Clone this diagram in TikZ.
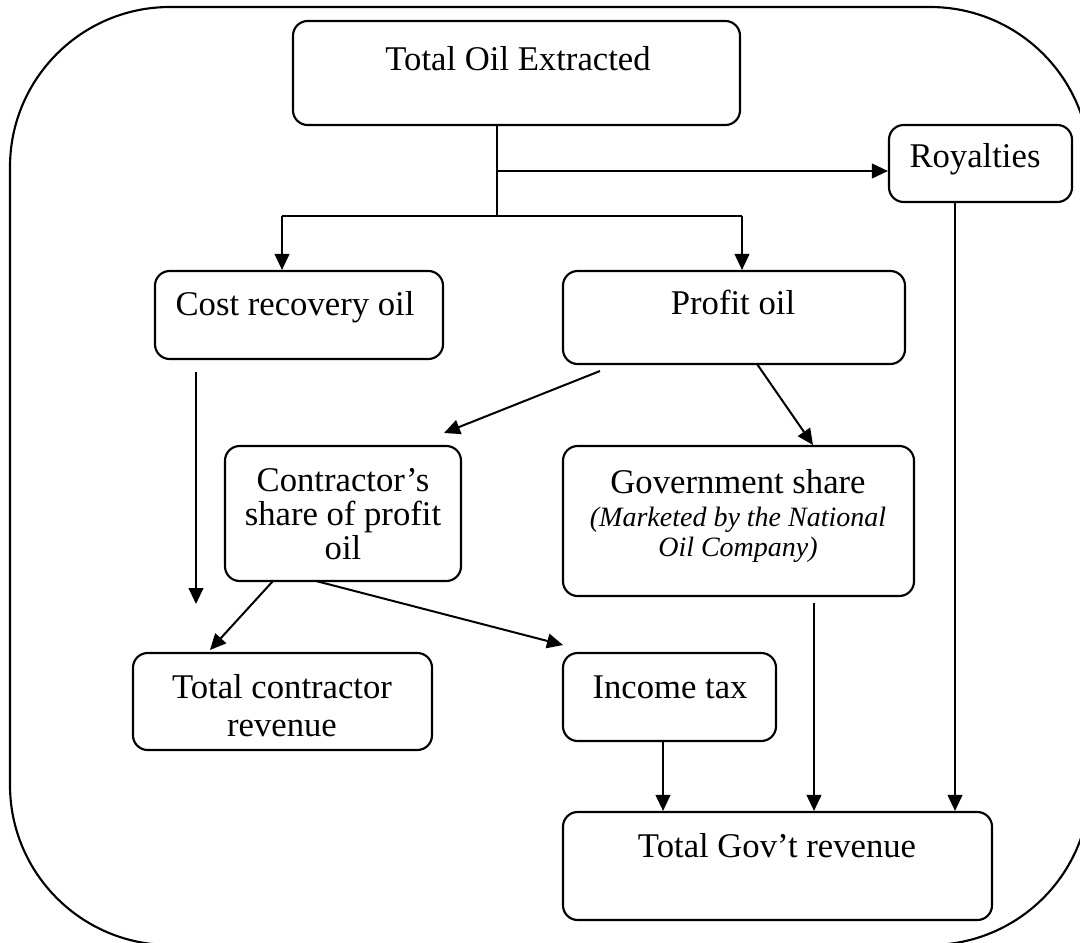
\documentclass[tikz,border=0pt]{standalone}
\usepackage{fontspec}
\setmainfont{Liberation Serif}
\usetikzlibrary{arrows.meta,fit}
\begin{document}
\begin{tikzpicture}[x=0.75pt,y=-0.75pt,
  box/.style={draw,line width=1.6pt,rounded corners=11pt,inner sep=0pt},
  txt/.style={font=\fontsize{26}{25.5}\selectfont,inner sep=0pt,align=center},
  itxt/.style={font=\fontsize{21}{22.5}\selectfont\itshape,inner sep=0pt,align=center},
  conn/.style={line width=1.5pt},
  arr/.style={line width=1.5pt,-{Triangle[length=12pt,width=11pt]}}]
\clip (0,0) rectangle (1080,942);
\fill[white] (0,0) rectangle (1080,942);
\draw[line width=1.6pt,rounded corners=120pt] (10,7) rectangle (1090,945);
% boxes
\node[box,fit={(293,21) (740,125)}] (toe) {};
\node[box,fit={(889,125) (1072,202)}] (roy) {};
\node[box,fit={(155,271) (443,359)}] (cro) {};
\node[box,fit={(563,271) (905,364)}] (prof) {};
\node[box,fit={(225,446) (461,581)}] (cshare) {};
\node[box,fit={(563,446) (914,596)}] (gshare) {};
\node[box,fit={(133,653) (432,750)}] (tcr) {};
\node[box,fit={(563,653) (776,741)}] (inc) {};
\node[box,fit={(563,812) (992,920)}] (tgr) {};
% texts
\node[txt,anchor=base] (toe-t) at (518,70) {Total Oil Extracted};
\node[txt,anchor=base] (roy-t) at (975,167) {Royalties};
\node[txt,anchor=base] (cro-t) at (295,315) {Cost recovery oil};
\node[txt,anchor=base] (prof-t) at (733,314) {Profit oil};
\node[txt] (cshare-t) at (343,514) {Contractor’s\\share of profit\\oil};
\node[txt,anchor=base] (gshare-t) at (738,493) {Government share};
\node[itxt] (gshare-i) at (738,535) {(Marketed by the National\\Oil Company)};
\node[txt,font=\fontsize{26}{28.5}\selectfont] (tcr-t) at (282,706) {Total contractor\\revenue};
\node[txt,anchor=base] (inc-t) at (670,698) {Income tax};
\node[txt,anchor=base] (tgr-t) at (777,857) {Total Gov’t revenue};
% connectors
\coordinate (jt) at (497,171);
\coordinate (jb) at (497,216);
\coordinate (cl) at (282,216);
\coordinate (cr) at (742,216);
\draw[conn] (toe.south -| jb) -- (jb);
\draw[arr] (jt) -- (roy.west |- jt);
\draw[conn] (cl) -- (cr);
\draw[arr] (cl) -- (cl |- cro.north);
\draw[arr] (cr) -- (cr |- prof.north);
\coordinate (rx) at (955,0);
\draw[arr] (roy.south -| rx) -- (tgr.north -| rx);
\coordinate (c0) at (196,372);
\coordinate (c1) at (196,604);
\draw[arr] (c0) -- (c1);
\coordinate (p0) at (600,371);
\coordinate (p1) at (444,433);
\draw[arr] (p0) -- (p1);
\coordinate (q0) at (757,364);
\coordinate (q1) at (813,445);
\draw[arr] (q0) -- (q1);
\coordinate (s0) at (273,581);
\coordinate (s1) at (210,650);
\draw[arr] (s0) -- (s1);
\coordinate (t0) at (316,581);
\coordinate (t1) at (563,645);
\draw[arr] (t0) -- (t1);
\coordinate (g0) at (814,603);
\draw[arr] (g0) -- (tgr.north -| g0);
\coordinate (ix) at (663,0);
\draw[arr] (inc.south -| ix) -- (tgr.north -| ix);
\end{tikzpicture}
\end{document}
